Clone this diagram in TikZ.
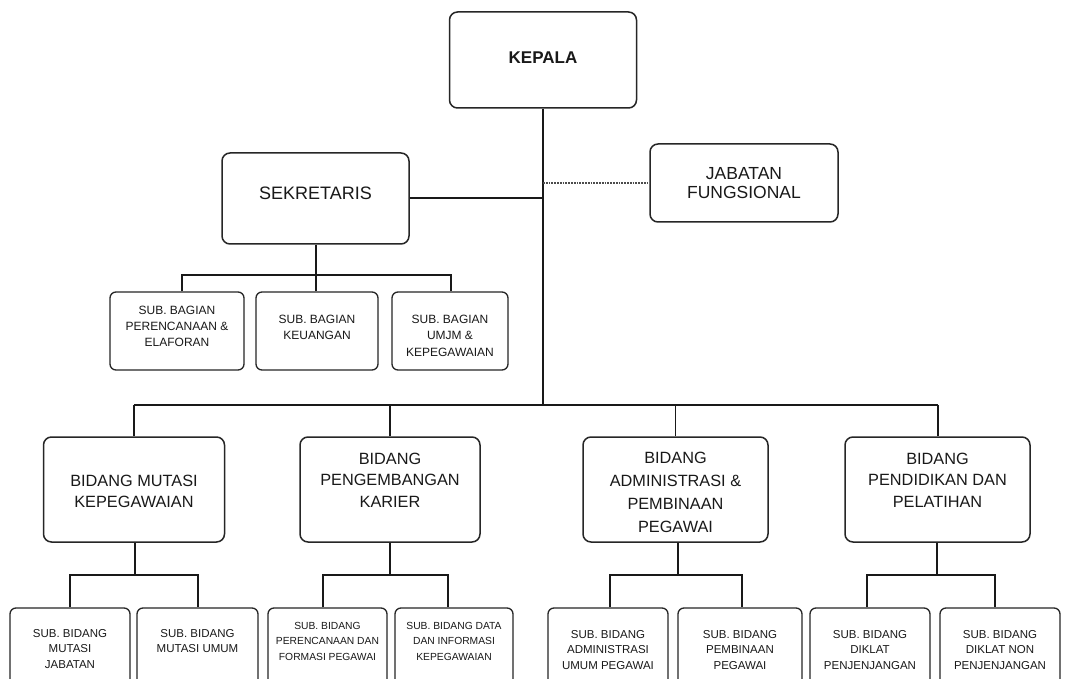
\documentclass[tikz,border=0pt]{standalone}
\usepackage{fontspec}
\setmainfont{Liberation Sans}
\begin{document}
\begin{tikzpicture}[x=1pt,y=-1pt,
 box/.style={draw=black!85, line width=1.5pt, rounded corners=8pt, inner sep=0pt},
 sbox/.style={draw=black!85, line width=1.3pt, rounded corners=6pt, inner sep=0pt},
 txt/.style={align=center, inner sep=0pt, text=black!90},
 big/.style={txt, font=\fontsize{17.5}{19.5}\selectfont},
 mid/.style={txt, font=\fontsize{16.3}{21.5}\selectfont},
 small/.style={txt, font=\fontsize{12}{15.8}\selectfont},
 tiny/.style={txt, font=\fontsize{11.5}{15.5}\selectfont},
 tinyc/.style={txt, font=\fontsize{10.3}{15.5}\selectfont},
 conn/.style={line width=2pt, black!90},
 thinconn/.style={line width=1.3pt, black!90},
]
\useasboundingbox (0,0) rectangle (1069,679);
\clip (0,0) rectangle (1069,679);
\fill[white] (0,0) rectangle (1069,679);

% top level
\node[box, minimum width=187pt, minimum height=96pt] (kepala) at (543,60) {};
\node[txt, font=\bfseries\fontsize{17}{20}\selectfont] (tkepala) at (543,58) {KEPALA};

\node[box, minimum width=188pt, minimum height=78pt] (jab) at (744,183) {};
\node[big] (tjab) at (744,183) {JABATAN\\FUNGSIONAL};

\node[box, minimum width=187pt, minimum height=91pt] (sek) at (315.5,198.5) {};
\node[big, font=\fontsize{18}{20}\selectfont] (tsek) at (315.5,193) {SEKRETARIS};

% sub bagian
\node[sbox, minimum width=134pt, minimum height=78pt] (sb1) at (177,331) {};
\node[small] (tsb1) at (177,326.5) {SUB. BAGIAN\\PERENCANAAN \&\\ELAFORAN};
\node[sbox, minimum width=122pt, minimum height=78pt] (sb2) at (317,331) {};
\node[small] (tsb2) at (317,327) {SUB. BAGIAN\\KEUANGAN};
\node[sbox, minimum width=116pt, minimum height=78pt] (sb3) at (450,331) {};
\node[small, font=\fontsize{12}{16.5}\selectfont] (tsb3) at (450,335.5) {SUB. BAGIAN\\UMJM \&\\KEPEGAWAIAN};

% bidang
\node[box, minimum width=181pt, minimum height=105pt] (bd1) at (134,489.5) {};
\node[mid, font=\fontsize{16.3}{20.5}\selectfont] (tbd1) at (134,491.5) {BIDANG MUTASI\\KEPEGAWAIAN};
\node[box, minimum width=180pt, minimum height=105pt] (bd2) at (390,489.5) {};
\node[mid] (tbd2) at (390,480) {BIDANG\\PENGEMBANGAN\\KARIER};
\node[box, minimum width=185pt, minimum height=105pt] (bd3) at (675.5,489.5) {};
\node[mid, font=\fontsize{16.3}{23}\selectfont] (tbd3) at (675.5,492) {BIDANG\\ADMINISTRASI \&\\PEMBINAAN\\PEGAWAI};
\node[box, minimum width=185pt, minimum height=105pt] (bd4) at (937.5,489.5) {};
\node[mid] (tbd4) at (937.5,480) {BIDANG\\PENDIDIKAN DAN\\PELATIHAN};

% sub bidang
\node[sbox, minimum width=120pt, minimum height=92pt] (s11) at (70,654) {};
\node[tiny] (ts11) at (70,649) {SUB. BIDANG\\MUTASI\\JABATAN};
\node[sbox, minimum width=121pt, minimum height=92pt] (s12) at (197.5,654) {};
\node[tiny] (ts12) at (197.5,641) {SUB. BIDANG\\MUTASI UMUM};
\node[sbox, minimum width=119pt, minimum height=92pt] (s21) at (327.5,654) {};
\node[tinyc] (ts21) at (327.5,641) {SUB. BIDANG\\PERENCANAAN DAN\\FORMASI PEGAWAI};
\node[sbox, minimum width=118pt, minimum height=92pt] (s22) at (454,654) {};
\node[tinyc] (ts22) at (454,641) {SUB. BIDANG DATA\\DAN INFORMASI\\KEPEGAWAIAN};
\node[sbox, minimum width=120pt, minimum height=92pt] (s31) at (608,654) {};
\node[tiny] (ts31) at (608,650) {SUB. BIDANG\\ADMINISTRASI\\UMUM PEGAWAI};
\node[sbox, minimum width=124pt, minimum height=92pt] (s32) at (740,654) {};
\node[tiny] (ts32) at (740,650) {SUB. BIDANG\\PEMBINAAN\\PEGAWAI};
\node[sbox, minimum width=120pt, minimum height=92pt] (s41) at (870,654) {};
\node[tiny] (ts41) at (870,650) {SUB. BIDANG\\DIKLAT\\PENJENJANGAN};
\node[sbox, minimum width=120pt, minimum height=92pt] (s42) at (1000,654) {};
\node[tiny] (ts42) at (1000,650) {SUB. BIDANG\\DIKLAT NON\\PENJENJANGAN};

% coordinates
\coordinate (busB) at (543,405);
\coordinate (busS) at (316,275);
\coordinate (g1) at (135,575);
\coordinate (g2) at (390,575);
\coordinate (g3) at (678,575);
\coordinate (g4) at (937,575);

% connectors
\draw[conn] (kepala.south) -- (busB);
\draw[conn] (sek.east) -- (sek.east -| kepala.south);
\draw[densely dotted, line width=1.8pt, black!70] (jab.west -| kepala.south) -- (jab.west);
\draw[conn] (sek.south -| busS) -- (busS);
\draw[conn] ([xshift=5pt]sb1.north) |- (busS) -| ([xshift=1pt]sb3.north);
\draw[conn] (sb2.north -| busS) -- (busS);

\draw[conn] (busB -| bd1.north) -- (busB -| bd4.north);
\draw[thinconn] (bd1.north) -- (bd1.north |- busB);
\draw[conn] (bd2.north) -- (bd2.north |- busB);
\draw[thinconn] (bd3.north) -- (bd3.north |- busB);
\draw[conn] (bd4.north) -- (bd4.north |- busB);

\draw[thinconn] (bd1.south -| g1) -- (g1);
\draw[conn] (s11.north) |- (g1) -| (s12.north);
\draw[conn] (bd2.south -| g2) -- (g2);
\draw[conn] ([xshift=-5pt]s21.north) |- (g2) -| ([xshift=-6pt]s22.north);
\draw[conn] (bd3.south -| g3) -- (g3);
\draw[conn] ([xshift=2pt]s31.north) |- (g3) -| ([xshift=2pt]s32.north);
\draw[thinconn] (bd4.south -| g4) -- (g4);
\draw[conn] ([xshift=-3pt]s41.north) |- (g4) -| ([xshift=-5pt]s42.north);
\end{tikzpicture}
\end{document}
